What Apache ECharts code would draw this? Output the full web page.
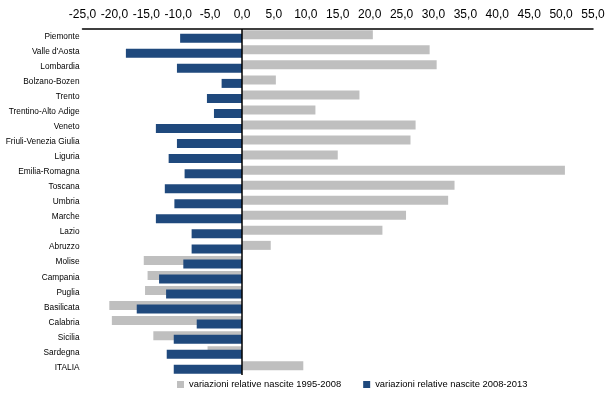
<!DOCTYPE html>
<html><head><meta charset="utf-8">
<script src="https://cdn.jsdelivr.net/npm/echarts@6/dist/echarts.min.js"></script>
<style>html,body{margin:0;padding:0;background:#fff}#c{width:610px;height:399px}</style>
</head><body><div id="c"></div>
<script>
var categories = ["Piemonte","Valle d'Aosta","Lombardia","Bolzano-Bozen","Trento","Trentino-Alto Adige","Veneto","Friuli-Venezia Giulia","Liguria","Emilia-Romagna","Toscana","Umbria","Marche","Lazio","Abruzzo","Molise","Campania","Puglia","Basilicata","Calabria","Sicilia","Sardegna","ITALIA"];
var var1995_2008 = [20.5,29.4,30.5,5.3,18.4,11.5,27.2,26.4,15.0,50.6,33.3,32.3,25.7,22.0,4.5,-15.4,-14.8,-15.2,-20.8,-20.4,-13.9,-5.4,9.6];
var var2008_2013 = [-9.7,-18.2,-10.2,-3.2,-5.5,-4.4,-13.5,-10.2,-11.5,-9.0,-12.1,-10.6,-13.5,-7.9,-7.9,-9.2,-13.0,-11.9,-16.5,-7.1,-10.7,-11.8,-10.7];
var seriesNames = ["variazioni relative nascite 1995-2008","variazioni relative nascite 2008-2013"];

var chart = echarts.init(document.getElementById('c'));
chart.setOption({
  animation: false,
  textStyle: {fontFamily: 'Liberation Sans, Arial, sans-serif'},
  grid: {left: 82.5, right: 17, top: 29, bottom: 24, containLabel: false, outerBoundsMode: 'none'},
  legend: {
    bottom: 5, left: 172, itemWidth: 7, itemHeight: 7, itemGap: 22, icon: 'rect',
    textStyle: {fontSize: 9.4, color: '#000'},
    data: seriesNames
  },
  xAxis: {
    type: 'value', position: 'top', min: -25, max: 55, interval: 5,
    axisLine: {show: true, lineStyle: {color: '#000', width: 1.5}},
    axisTick: {show: false}, splitLine: {show: false},
    axisLabel: {fontSize: 12, color: '#000', margin: 8,
      formatter: function(v){ return v.toFixed(1).replace('.', ','); }}
  },
  yAxis: {
    type: 'category', inverse: true, data: categories,
    axisLine: {show: false}, axisTick: {show: false},
    axisLabel: {fontSize: 8.3, color: '#000', margin: 3}
  },
  series: [
    {name: seriesNames[0], type: 'bar', data: var1995_2008, barWidth: 9, barGap: '-61%',
     itemStyle: {color: '#BFBFBF'},
     markLine: {silent: true, symbol: 'none', label: {show: false},
       lineStyle: {color: '#000', width: 1.5, type: 'solid'}, data: [{xAxis: 0}]}},
    {name: seriesNames[1], type: 'bar', data: var2008_2013, barWidth: 9, barGap: '-61%',
     itemStyle: {color: '#1F497D'}}
  ]
});
</script></body></html>
